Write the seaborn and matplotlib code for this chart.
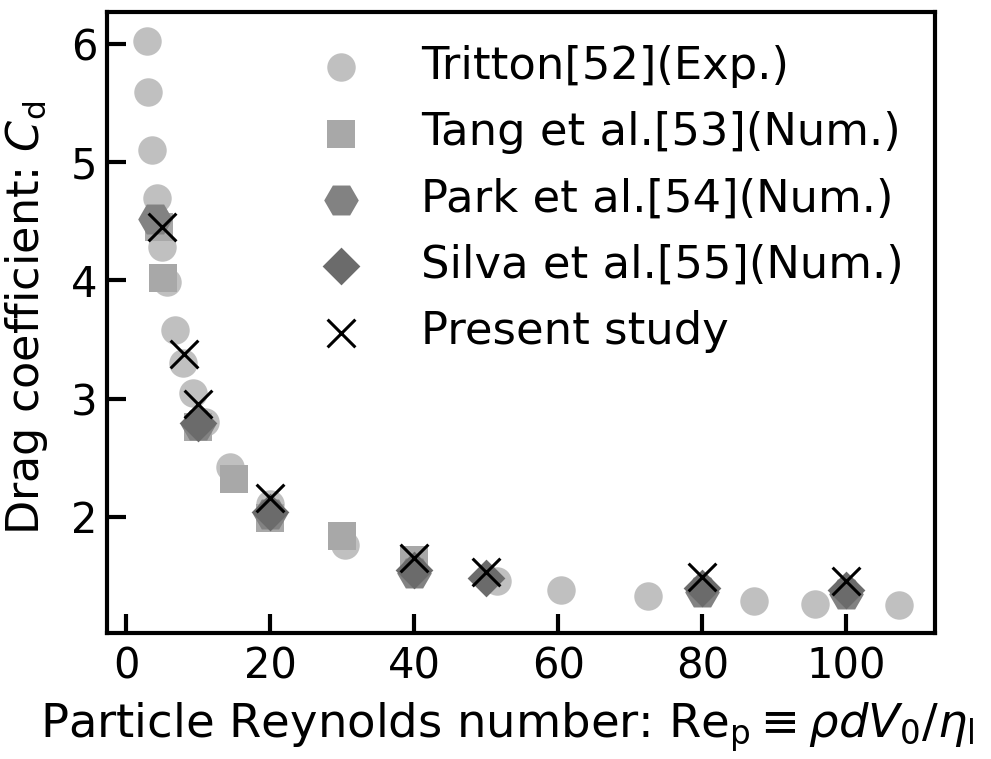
import pandas as pd
import matplotlib.pyplot as plt
import seaborn as sns

# data
tritton_re = [2.8, 3.05, 3.6, 4.2, 4.9, 5.6, 6.8, 7.8, 9.3, 10.9, 14.4, 19.9, 30.3, 51.4, 60.3, 72.5, 87.2, 95.6, 107.3]
tritton_cd = [6.03, 5.59, 5.10, 4.70, 4.28, 3.99, 3.58, 3.30, 3.05, 2.80, 2.42, 2.11, 1.76, 1.46, 1.38, 1.33, 1.29, 1.26, 1.25]

tang_re = [4.5, 5.1, 10, 15, 20, 30, 40]
tang_cd = [4.45, 4.02, 2.76, 2.32, 1.99, 1.84, 1.63]

park_re = [4, 10, 20, 40, 80, 100]
park_cd = [4.52, 2.78, 2.02, 1.52, 1.36, 1.35]

silva_re = [10, 20, 40, 50, 80, 100]
silva_cd = [2.79, 2.04, 1.55, 1.48, 1.40, 1.38]

present_re = [5, 8, 10, 20, 40, 50, 80, 100]
present_cd = [4.45, 3.38, 2.95, 2.16, 1.65, 1.53, 1.49, 1.46]

sns.set_theme(style="ticks")
plt.rcParams['font.family'] = ['DejaVu Sans']
plt.rcParams['mathtext.fontset'] = 'dejavusans'
plt.rcParams['text.color'] = 'black'
plt.rcParams['axes.labelcolor'] = 'black'
plt.rcParams['xtick.color'] = 'black'
plt.rcParams['ytick.color'] = 'black'

fig = plt.figure(figsize=(9.91, 7.59), dpi=100)
ax = fig.add_axes([0.108, 0.166, 0.8355, 0.818])

series = [
    ("Tritton[52](Exp.)", tritton_re, tritton_cd, 'o', '#c0c0c0', 420),
    ("Tang et al.[53](Num.)", tang_re, tang_cd, 's', '#a8a8a8', 410),
    ("Park et al.[54](Num.)", park_re, park_cd, 'H', '#828282', 620),
    ("Silva et al.[55](Num.)", silva_re, silva_cd, 'D', '#6b6b6b', 370),
]
for i, (name, xs, ys, mk, col, sz) in enumerate(series):
    df = pd.DataFrame({'Re': xs, 'Cd': ys})
    sns.scatterplot(data=df, x='Re', y='Cd', marker=mk, color=col, s=sz,
                    linewidth=0, label=name, ax=ax, zorder=2 + i)

df = pd.DataFrame({'Re': present_re, 'Cd': present_cd})
sns.scatterplot(data=df, x='Re', y='Cd', marker='x', color='black', s=400,
                linewidth=2.2, label="Present study", ax=ax, zorder=10)

ax.set_xlim(-2.7, 112.3)
ax.set_ylim(1.016, 6.27)
ax.set_xticks([0, 20, 40, 60, 80, 100])
ax.set_yticks([2, 3, 4, 5, 6])

for sp in ax.spines.values():
    sp.set_linewidth(3)
    sp.set_color('black')
ax.tick_params(direction='in', length=14, width=3, labelsize=30)
ax.tick_params(axis='x', pad=9)
ax.tick_params(axis='y', pad=7)

ax.set_xlabel(r"Particle Reynolds number: $\mathrm{Re_p} \equiv \rho d V_0/\eta_\mathrm{l}$", fontsize=33.5)
ax.set_ylabel(r"Drag coefficient: $C_\mathrm{d}$", fontsize=32)
ax.xaxis.set_label_coords(0.483, -0.108)
ax.yaxis.set_label_coords(-0.069, 0.507)

ax.legend(loc='upper left', bbox_to_anchor=(0.255, 0.947), frameon=False,
          fontsize=32.3, handlelength=1.0, handletextpad=1.3, labelspacing=0.52,
          borderpad=0, borderaxespad=0)

plt.savefig("out.png", dpi=100)
